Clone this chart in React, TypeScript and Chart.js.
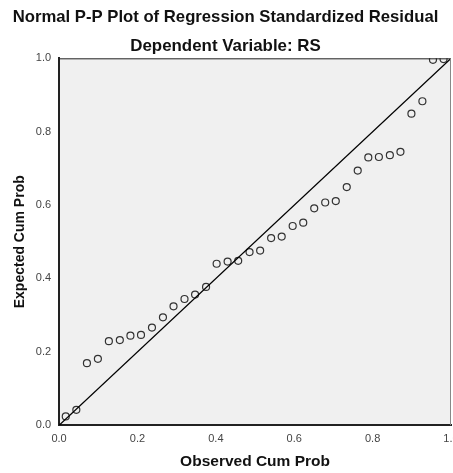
import React, { useEffect, useRef } from "react";
import { Chart, registerables } from "chart.js";

Chart.register(...registerables);

const observedCumProb = [
  0.017, 0.044, 0.071, 0.099, 0.127, 0.155, 0.182, 0.209, 0.237, 0.265, 0.292, 0.320,
  0.347, 0.375, 0.402, 0.430, 0.457, 0.486, 0.513, 0.541, 0.568, 0.596, 0.623, 0.651,
  0.679, 0.706, 0.734, 0.762, 0.789, 0.816, 0.844, 0.871, 0.899, 0.927, 0.954, 0.981,
];
const expectedCumProb = [
  0.024, 0.042, 0.169, 0.181, 0.229, 0.232, 0.244, 0.246, 0.266, 0.294, 0.324, 0.344,
  0.356, 0.377, 0.440, 0.446, 0.448, 0.472, 0.476, 0.510, 0.514, 0.543, 0.552, 0.591,
  0.607, 0.611, 0.649, 0.694, 0.730, 0.731, 0.736, 0.745, 0.849, 0.883, 0.996, 0.998,
];
const diagonalX = [0, 1];
const diagonalY = [0, 1];
const tickValues = [0, 0.2, 0.4, 0.6, 0.8, 1.0];

const titleText = "Normal P-P Plot of Regression Standardized Residual";
const subtitleText = "Dependent Variable: RS";
const xTitle = "Observed Cum Prob";
const yTitle = "Expected Cum Prob";

const FONT = "Arial, 'Liberation Sans', sans-serif";

const framePlugin = {
  id: "frame",
  beforeDraw(chart: any) {
    const { ctx, chartArea: a } = chart;
    ctx.save();
    ctx.fillStyle = "#f0f0f0";
    ctx.fillRect(a.left, a.top, a.right - a.left, a.bottom - a.top);
    ctx.restore();
  },
  afterDatasetsDraw(chart: any) {
    const { ctx, chartArea: a } = chart;
    ctx.save();
    ctx.lineWidth = 1;
    ctx.strokeStyle = "#222";
    ctx.beginPath();
    ctx.moveTo(a.left, a.top + 0.5);
    ctx.lineTo(a.right, a.top + 0.5);
    ctx.stroke();
    ctx.strokeStyle = "#888";
    ctx.beginPath();
    ctx.moveTo(a.right - 0.5, a.top);
    ctx.lineTo(a.right - 0.5, a.bottom);
    ctx.stroke();
    ctx.restore();
  },
};

export default function App() {
  const ref = useRef<HTMLCanvasElement>(null);
  useEffect(() => {
    document.body.style.margin = "0";
    document.body.style.overflow = "hidden";
    const ctx = ref.current!.getContext("2d")!;
    const chart = new Chart(ctx, {
      type: "scatter",
      data: {
        datasets: [
          {
            type: "line",
            data: diagonalX.map((x, i) => ({ x, y: diagonalY[i] })),
            borderColor: "#000",
            borderWidth: 1.2,
            pointRadius: 0,
            fill: false,
          } as any,
          {
            data: observedCumProb.map((x, i) => ({ x, y: expectedCumProb[i] })),
            pointRadius: 3.5,
            pointBorderWidth: 1.2,
            pointBorderColor: "#333",
            pointBackgroundColor: "rgba(0,0,0,0)",
          },
        ],
      },
      options: {
        animation: false,
        responsive: false,
        layout: { padding: { left: 0, right: 12, top: 0, bottom: 2 } },
        plugins: {
          legend: { display: false },
          tooltip: { enabled: false },
          title: {
            display: true,
            text: titleText,
            color: "#111",
            font: { family: FONT, size: 16.7, weight: "bold", lineHeight: 1.2 },
            padding: { top: 7, bottom: 3 },
          },
          subtitle: {
            display: true,
            text: subtitleText,
            color: "#111",
            font: { family: FONT, size: 16.9, weight: "bold", lineHeight: 1.2 },
            padding: { top: 6, bottom: 2 },
          },
        },
        scales: {
          x: {
            type: "linear",
            min: 0,
            max: 1,
            afterBuildTicks: (s: any) => {
              s.ticks = tickValues.map((v) => ({ value: v }));
            },
            grid: { display: false, drawTicks: true, tickLength: 5, tickColor: "#222" } as any,
            border: { display: true, color: "#222", width: 2 },
            ticks: {
              color: "#444",
              font: { family: FONT, size: 11 },
              padding: 2,
              maxRotation: 0,
              callback: (v: any) => Number(v).toFixed(1),
            },
            title: {
              display: true,
              text: xTitle,
              color: "#111",
              font: { family: FONT, size: 15.5, weight: "bold" },
              padding: { top: 5, bottom: 0 },
            },
          },
          y: {
            type: "linear",
            min: 0,
            max: 1,
            afterBuildTicks: (s: any) => {
              s.ticks = tickValues.map((v) => ({ value: v }));
            },
            grid: { display: false, drawTicks: true, tickLength: 7, tickColor: "#222" } as any,
            border: { display: true, color: "#222", width: 2 },
            ticks: {
              color: "#444",
              font: { family: FONT, size: 11 },
              padding: 1,
              callback: (v: any) => Number(v).toFixed(1),
            },
            title: {
              display: true,
              text: yTitle,
              color: "#111",
              font: { family: FONT, size: 14, weight: "bold" },
              padding: { top: 12, bottom: 6 },
            },
          },
        },
      },
      plugins: [framePlugin],
    });
    return () => chart.destroy();
  }, []);
  return (
    <div style={{ position: "fixed", left: 0, top: 0, width: 453, height: 473, overflow: "hidden", background: "#fff" }}>
      <canvas ref={ref} width={463} height={473} style={{ display: "block", width: 463, height: 473 }} />
    </div>
  );
}
